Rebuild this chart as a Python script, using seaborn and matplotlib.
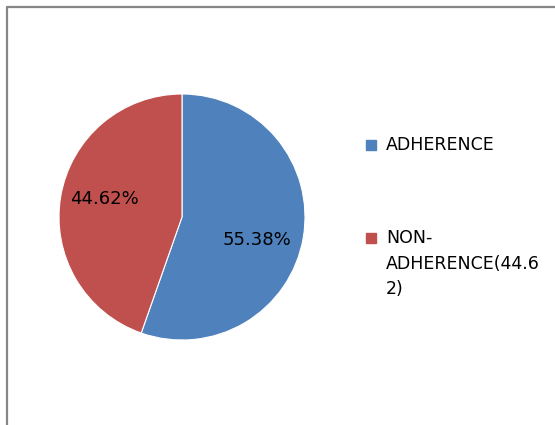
import matplotlib
matplotlib.use("Agg")
import matplotlib.pyplot as plt
import seaborn as sns
from matplotlib.lines import Line2D
from matplotlib.patches import Rectangle

categories = ["ADHERENCE", "NON-ADHERENCE(44.62)"]
legend_labels = ["ADHERENCE", "NON-\nADHERENCE(44.6\n2)"]
values = [55.38, 44.62]
colors = ["#4F81BD", "#C0504D"]

sns.set_style("white")
plt.rcParams["font.family"] = ["DejaVu Sans"]
plt.rcParams["text.color"] = "black"

fig = plt.figure(figsize=(5.55, 4.25), dpi=100)
W, H = 555, 425

# outer frame lines (top and left)
fig.add_artist(Line2D([7 / W, 1], [1 - 7 / H, 1 - 7 / H], color="#878787", lw=1.6))
fig.add_artist(Line2D([7 / W, 7 / W], [0, 1 - 7 / H], color="#878787", lw=1.6))

cx, cy, r = 182, 217, 123
ax = fig.add_axes([(cx - r) / W, (H - cy - r) / H, 2 * r / W, 2 * r / H])
wedges, texts, autotexts = ax.pie(
    values, colors=colors, startangle=90, counterclock=False,
    autopct="%.2f%%", pctdistance=0.64,
    wedgeprops=dict(edgecolor="white", linewidth=0.8),
    textprops=dict(fontsize=13, color="black"),
)
# nudge labels to match the best-fit placement
nudges = [(-0.02, -0.08), (0.0, 0.04)]
for t, (dx, dy) in zip(autotexts, nudges):
    x, y = t.get_position()
    t.set_position((x + dx, y + dy))
ax.set_xlim(-1, 1)
ax.set_ylim(-1, 1)
ax.set_aspect("equal")

# legend
leg_y = [145, 238]
for lab, col, y in zip(legend_labels, colors, leg_y):
    fig.add_artist(Rectangle((366 / W, 1 - (y + 5) / H), 10 / W, 10 / H,
                             transform=fig.transFigure, color=col))
    fig.text(386 / W, 1 - (y - 9) / H, lab, fontsize=12.5, va="top", ha="left",
             linespacing=1.55, color="black")

fig.savefig("out.png", dpi=100)
